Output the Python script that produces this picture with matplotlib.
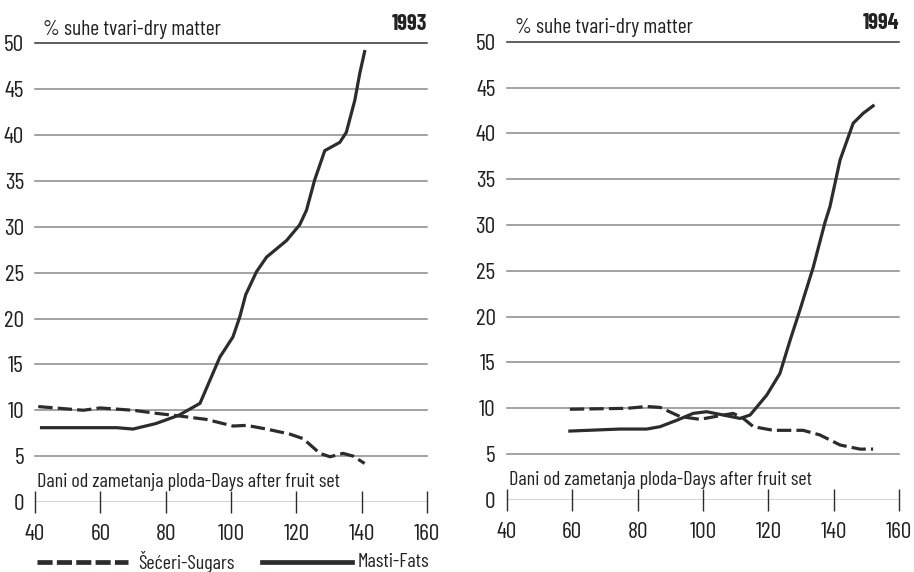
# suhe tvari - secer i masti, 1993 / 1994
import matplotlib
matplotlib.use("Agg")
import matplotlib.pyplot as plt
from matplotlib.lines import Line2D

plt.rcParams["font.family"] = ["Barlow Condensed", "Roboto Condensed", "DejaVu Sans"]

# 1993
days_fats_93 = [42, 65, 70, 77, 84, 90.5, 96.6, 100.6, 102.7, 104.5, 107.8, 110.9, 117, 121, 123.1,
                125.6, 128.7, 133.3, 135.3, 137.9, 139.4, 140.9]
fats_93 = [8.1, 8.1, 7.95, 8.55, 9.45, 10.75, 15.8, 18.0, 20.2, 22.6, 25.1, 26.7, 28.5, 30.2, 31.8,
           35.1, 38.3, 39.2, 40.3, 43.8, 46.7, 49.1]
days_sugars_93 = [41, 54.8, 59.9, 70, 77.2, 84.3, 92.5, 100.6, 104.8, 110.9, 118, 122.1, 127.2,
                  130.3, 134.3, 137.4, 140.9]
sugars_93 = [10.4, 10.0, 10.25, 10.0, 9.66, 9.37, 9.0, 8.28, 8.35, 7.95, 7.4, 6.9, 5.3,
             4.93, 5.3, 5.0, 4.2]

# 1994
days_fats_94 = [59.3, 74.6, 82.8, 86.9, 92, 97, 101.1, 106.2, 111.3, 114.4, 119.5, 123.5, 126.6,
                129.6, 133.7, 137.3, 138.8, 141.9, 145.9, 149, 152]
fats_94 = [7.52, 7.74, 7.74, 8.0, 8.7, 9.45, 9.63, 9.27, 8.9, 9.27, 11.45, 13.8, 17.4,
           20.7, 25.4, 30.3, 32.0, 37.1, 41.1, 42.2, 43.0]
days_sugars_94 = [59.3, 76.7, 82.8, 86.9, 93, 99.1, 105.2, 109.2, 112.3, 115.4, 121.5, 130.6,
                  135.7, 141.9, 148, 152]
sugars_94 = [9.9, 10.0, 10.2, 10.1, 9.1, 8.8, 9.2, 9.45, 8.9, 8.0, 7.6, 7.6,
             7.1, 6.0, 5.55, 5.55]

years = ["1993", "1994"]
x_ticks = [40, 60, 80, 100, 120, 140, 160]
y_ticks = [0, 5, 10, 15, 20, 25, 30, 35, 40, 45, 50]
legend_labels = ["Šećeri-Sugars", "Masti-Fats"]

INK = "#2b2d2d"
TXT = "#222222"
DASH = (4.5, 1.6)

fig = plt.figure(figsize=(9.14, 5.72), dpi=100)
ax1 = fig.add_axes([0.0383, 0.1224, 0.4289, 0.8019])
ax2 = fig.add_axes([0.5544, 0.1259, 0.4295, 0.8012])

panels = [
    (ax1, days_sugars_93, sugars_93, days_fats_93, fats_93, years[0]),
    (ax2, days_sugars_94, sugars_94, days_fats_94, fats_94, years[1]),
]

for ax, ds, s, df, f, yr in panels:
    ax.set_xlim(40, 160)
    ax.set_ylim(0, 50)
    for side in ["top", "right", "left", "bottom"]:
        ax.spines[side].set_visible(False)
    # gridlines
    for v in y_ticks[1:]:
        c = "#333333" if v == 50 else "#8a8a8a"
        ax.axhline(v, color=c, lw=1.1, zorder=1, clip_on=False)
    # x axis with crossing ticks
    ax.axhline(0, color=INK, lw=1.0, zorder=2)
    ax.set_xticks(x_ticks)
    ax.set_yticks(y_ticks)
    ax.tick_params(axis="x", direction="inout", length=16, width=1.0, color=INK,
                   labelsize=17, pad=8, labelcolor=TXT)
    ax.tick_params(axis="y", length=0, labelsize=17, pad=8, labelcolor=TXT)

    ax.plot(ds, s, color=INK, lw=2.3, dashes=DASH, zorder=3, solid_capstyle="butt")
    ax.plot(df, f, color=INK, lw=2.3, zorder=3)

    ax.text(0.02, 1.01, "% suhe tvari-dry matter", transform=ax.transAxes,
            fontsize=15.5, ha="left", va="bottom", color=TXT)
    ax.text(1.0, 1.02, yr, transform=ax.transAxes, fontsize=16, fontweight="bold",
            ha="right", va="bottom", color=TXT)
    ax.text(0.005, 0.025, "Dani od zametanja ploda-Days after fruit set",
            transform=ax.transAxes, fontsize=14.5, ha="left", va="bottom", color=TXT)

# legend under left panel, drawn by hand
W, H = 914.0, 572.0
leg_y = 1 - 562 / H
fig.add_artist(Line2D([37 / W, 128 / W], [leg_y, leg_y], color=INK, lw=3.4,
                      dashes=(3.2, 0.9), solid_capstyle="butt"))
fig.add_artist(Line2D([262 / W, 352 / W], [leg_y, leg_y], color=INK, lw=3.4))
fig.text(138 / W, leg_y, legend_labels[0], fontsize=14.5, ha="left", va="center", color=TXT)
fig.text(358 / W, leg_y, legend_labels[1], fontsize=14.5, ha="left", va="center", color=TXT)

fig.savefig("out.png", dpi=100)
